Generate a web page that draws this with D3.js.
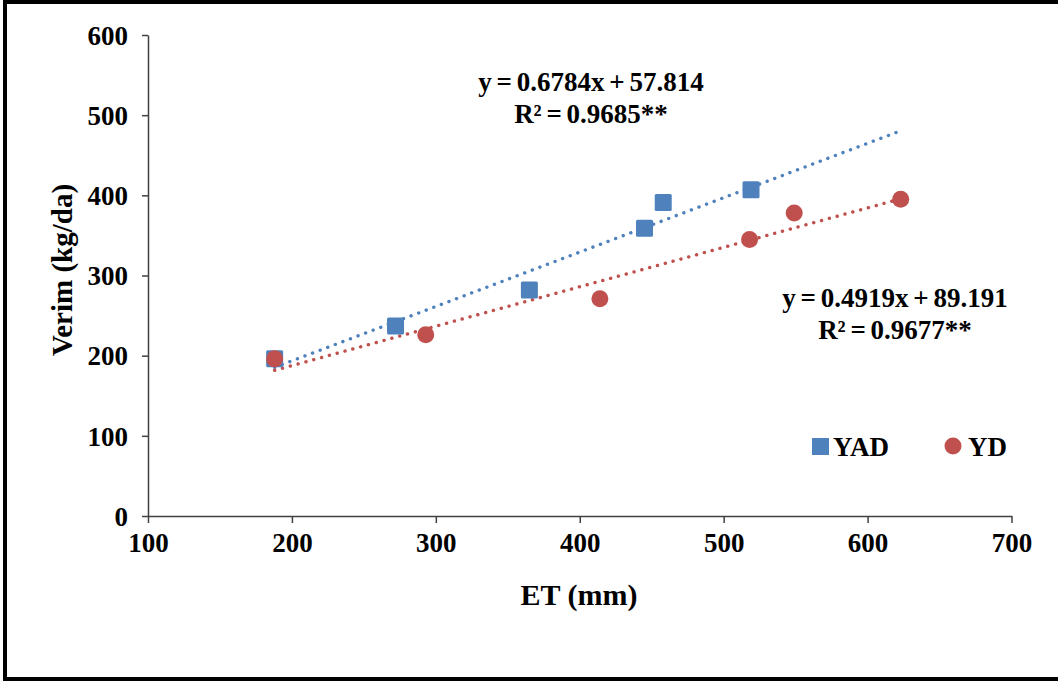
<!DOCTYPE html>
<html>
<head>
<meta charset="utf-8">
<script src="https://cdn.jsdelivr.net/npm/d3@7"></script>
<style>
  html, body { margin: 0; padding: 0; background: #fff; }
  svg text { font-family: "Liberation Serif", "Times New Roman", serif; font-weight: bold; fill: #000; }
</style>
</head>
<body>
<div id="chart"></div>
<script>
// ET (mm) and yield (kg/da)
const yadET = [188, 272, 365, 445, 458, 519];
const yadYield = [196, 237, 282, 359, 391, 407];
const ydET = [188, 293, 414, 518, 549, 623];
const ydYield = [196, 226, 271, 345, 378, 395];

// linear trend lines as printed on the chart
const seriesNames = ["YAD", "YD"];
const slopes = [0.6784, 0.4919];
const intercepts = [57.814, 89.191];
const equations = ["y = 0.6784x + 57.814", "y = 0.4919x + 89.191"];
const r2Labels = ["R² = 0.9685**", "R² = 0.9677**"];

const xTicks = [100, 200, 300, 400, 500, 600, 700];
const yTicks = [0, 100, 200, 300, 400, 500, 600];

const W = 1058, H = 682;
const colors = ["#4f81bd", "#c0504d"];

const svg = d3.select("#chart").append("svg")
  .attr("width", W)
  .attr("height", H);

// outer frame (right edge is cropped in the original)
svg.append("rect")
  .attr("x", 5).attr("y", 2)
  .attr("width", W + 20).attr("height", 677)
  .attr("fill", "#fff")
  .attr("stroke", "#000")
  .attr("stroke-width", 4);

const xScale = d3.scaleLinear().domain([100, 700]).range([148, 1011.5]);
const yScale = d3.scaleLinear().domain([0, 600]).range([516, 35]);

// axes
const xAxis = svg.append("g")
  .attr("transform", `translate(0,${yScale(0)})`)
  .call(d3.axisBottom(xScale).tickValues(xTicks).tickSize(7).tickSizeOuter(0).tickPadding(10));

const yAxis = svg.append("g")
  .attr("transform", `translate(${xScale(100)},0)`)
  .call(d3.axisLeft(yScale).tickValues(yTicks).tickSize(6).tickSizeOuter(0).tickPadding(14));

[xAxis, yAxis].forEach(ax => {
  ax.select(".domain").attr("stroke", "#404040").attr("stroke-width", 1.5);
  ax.selectAll(".tick line").attr("stroke", "#404040").attr("stroke-width", 1.5);
  ax.selectAll("text")
    .attr("font-size", "27px")
    .attr("font-family", "'Liberation Serif', 'Times New Roman', serif")
    .attr("font-weight", "bold")
    .attr("fill", "#000");
});
yAxis.selectAll("text").attr("dy", "0.34em");
xAxis.selectAll("text").attr("dy", "0.7em");

// axis titles
svg.append("text")
  .attr("x", 579).attr("y", 605)
  .attr("text-anchor", "middle")
  .attr("font-size", "30px")
  .text("ET (mm)");

svg.append("text")
  .attr("transform", "translate(72,270) rotate(-90)")
  .attr("text-anchor", "middle")
  .attr("font-size", "29px")
  .text("Verim (kg/da)");

// trend lines over the observed ET range
const etRange = d3.extent(ydET.concat(yadET));
const line = d3.line().x(d => xScale(d[0])).y(d => yScale(d[1]));

slopes.forEach((s, i) => {
  const pts = etRange.map(x => [x, s * x + intercepts[i]]);
  svg.append("path")
    .datum(pts)
    .attr("d", line)
    .attr("fill", "none")
    .attr("stroke", colors[i])
    .attr("stroke-width", 3.4)
    .attr("stroke-linecap", "round")
    .attr("stroke-dasharray", "0.1 8");
});

// YAD squares
const sq = 17;
svg.append("g").selectAll("rect")
  .data(d3.zip(yadET, yadYield))
  .join("rect")
  .attr("x", d => xScale(d[0]) - sq / 2)
  .attr("y", d => yScale(d[1]) - sq / 2)
  .attr("width", sq).attr("height", sq)
  .attr("rx", 1.5)
  .attr("fill", colors[0]);

// YD circles
svg.append("g").selectAll("circle")
  .data(d3.zip(ydET, ydYield))
  .join("circle")
  .attr("cx", d => xScale(d[0]))
  .attr("cy", d => yScale(d[1]))
  .attr("r", 8.5)
  .attr("fill", colors[1]);

// equation labels
const eqPos = [[591, 91], [895, 307]];
eqPos.forEach((p, i) => {
  const t = svg.append("text")
    .attr("text-anchor", "middle")
    .attr("font-size", "27px")
    .attr("word-spacing", "-2px");
  t.append("tspan").attr("x", p[0]).attr("y", p[1]).text(equations[i]);
  t.append("tspan").attr("x", p[0]).attr("y", p[1] + 32).text(r2Labels[i]);
});

// legend
const legend = svg.append("g");
legend.append("rect")
  .attr("x", 812).attr("y", 438)
  .attr("width", sq).attr("height", sq)
  .attr("fill", colors[0]);
legend.append("text")
  .attr("x", 833).attr("y", 456)
  .attr("font-size", "27px")
  .text(seriesNames[0]);
legend.append("circle")
  .attr("cx", 953).attr("cy", 446)
  .attr("r", 8.5)
  .attr("fill", colors[1]);
legend.append("text")
  .attr("x", 968).attr("y", 456)
  .attr("font-size", "27px")
  .text(seriesNames[1]);
</script>
</body>
</html>
